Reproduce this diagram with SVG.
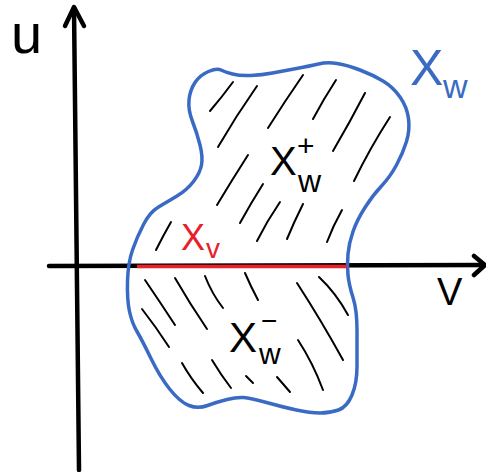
<svg xmlns="http://www.w3.org/2000/svg" width="486" height="472" viewBox="0 0 486 472">
<style>
.ax{fill:none;stroke:#000;stroke-width:4.5;stroke-linecap:round;stroke-linejoin:round}
.blob{fill:none;stroke:#3a6bc4;stroke-width:3.5;stroke-linejoin:round}
.h{fill:none;stroke:#000;stroke-width:2;stroke-linecap:round}
.t{font-family:"Liberation Sans","DejaVu Sans",sans-serif}
</style>
<rect width="486" height="472" fill="#fff"/>
<g id="axes">
<path class="ax" d="M79,470 L74,8"/>
<path class="ax" d="M65,26 L74,7 L84,26"/>
<path class="ax" d="M49,266 L484,265"/>
<path class="ax" d="M474,256 L485,265 L474,275"/>
</g>
<g id="hatch-top">
<path class="h" d="M233,82 Q222,97 210,111"/>
<path class="h" d="M257,86 Q236,116 218,147"/>
<path class="h" d="M303,75 Q285,101 268,128"/>
<path class="h" d="M336,80 Q323,100 313,119"/>
<path class="h" d="M365,93 Q350,122 333,151"/>
<path class="h" d="M390,117 Q370,148 354,181"/>
<path class="h" d="M248,155 Q232,180 217,205"/>
<path class="h" d="M263,184 Q251,203 240,223"/>
<path class="h" d="M280,202 Q267,221 257,241"/>
<path class="h" d="M303,204 Q294,222 287,239"/>
<path class="h" d="M342,210 Q333,226 327,242"/>
<path class="h" d="M171,222 Q163,236 156,250"/>
</g>
<g id="hatch-bottom">
<path class="h" d="M145,280 Q160,302 175,325"/>
<path class="h" d="M175,278 Q190,304 207,329"/>
<path class="h" d="M205,276 Q212,294 223,308"/>
<path class="h" d="M245,273 Q251,287 258,300"/>
<path class="h" d="M142,309 Q156,327 169,347"/>
<path class="h" d="M297,283 Q321,320 343,360"/>
<path class="h" d="M319,277 Q336,293 348,315"/>
<path class="h" d="M182,363 Q191,379 203,393"/>
<path class="h" d="M212,360 Q221,375 231,388"/>
<path class="h" d="M246,376 L253,383"/>
<path class="h" d="M277,377 Q284,385 290,392"/>
<path class="h" d="M298,340 Q313,363 323,390"/>
</g>
<g id="region">
<path class="blob" d="M208.5,71.5 Q217,68 221,70 Q225,72 232.5,74 Q240,76 251,75.5 Q262,75 272.5,73 Q283,71 296.5,68.5 Q310,66 318.5,64 Q327,62 337,63.5 Q347,65 360,70 Q373,75 383,81 Q393,87 400,97 Q407,107 408.5,118.5 Q410,130 406.5,141.5 Q403,153 396.5,165 Q390,177 381.5,186 Q373,195 365,207.5 Q357,220 353,231.5 Q349,243 348,254 Q347,265 348,275 Q349,285 353,297.5 Q357,310 357,330 Q357,350 357,366.5 Q357,383 352,395 Q347,407 338.5,410 Q330,413 320,413 Q310,413 296.5,410 Q283,407 266.5,402.5 Q250,398 243.5,397.5 Q237,397 227,399.5 Q217,402 207.5,405.5 Q198,409 189,405.5 Q180,402 170,389.5 Q160,377 151,358.5 Q142,340 137,331.5 Q132,323 129.5,311.5 Q127,300 127.5,281.5 Q128,263 132.5,250 Q137,237 143.5,224.5 Q150,212 158.5,207 Q167,202 177,196 Q187,190 193.5,181.5 Q200,173 201.5,165 Q203,157 200,145 Q197,133 192.5,121.5 Q188,110 189,100 Q190,90 195,82.5 Q200,75 208.5,71.5 Z"/>
</g>
<g id="xv-line">
<path d="M137,266.5 L347,266.5" fill="none" stroke="#e8202a" stroke-width="3.5"/>
</g>
<g id="labels" class="t">
<text x="11" y="53" font-size="56" fill="#000">u</text>
<text x="437" y="305" font-size="38" fill="#000">V</text>
<text x="410" y="85" font-size="50" fill="#3a6bc4">X</text>
<text x="443" y="98" font-size="34" fill="#3a6bc4">w</text>
<text x="270" y="175" font-size="40" fill="#000">X</text>
<text x="297" y="156" font-size="30" fill="#000">+</text>
<text x="298" y="192" font-size="32" fill="#000">w</text>
<text x="181" y="250" font-size="36" fill="#e8202a">X</text>
<text x="206" y="258" font-size="28" fill="#e8202a">v</text>
<text x="229" y="352" font-size="42" fill="#000">X</text>
<text x="261" y="330" font-size="28" fill="#000">−</text>
<text x="259" y="364" font-size="30" fill="#000">w</text>
</g>
</svg>
